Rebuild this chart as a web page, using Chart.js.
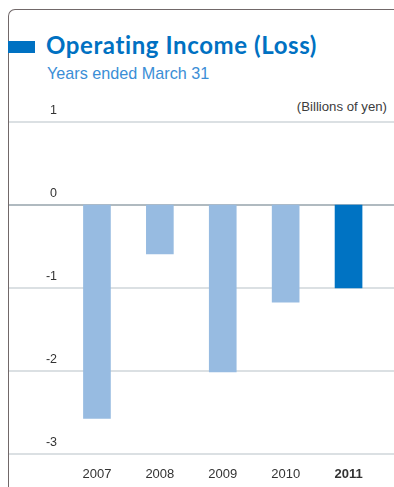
<!DOCTYPE html>
<html>
<head>
<meta charset="utf-8">
<script src="https://cdn.jsdelivr.net/npm/chart.js@4/dist/chart.umd.min.js"></script>
<style>
	html, body { margin: 0; padding: 0; background: #fff; }
	body { width: 394px; height: 487px; position: relative; overflow: hidden; font-family: "Liberation Sans", Arial, sans-serif; }
	#frame { position: absolute; left: 8px; top: 9px; width: 420px; height: 500px; border-left: 1px solid #716869; border-top: 1px solid #716869; border-top-left-radius: 7px; box-sizing: border-box; }
	#tab { position: absolute; left: 8px; top: 41px; width: 27px; height: 12px; background: #0071c2; }
	#title { position: absolute; left: 46px; top: 30px; font: bold 24px "Lato", "Liberation Sans", sans-serif; color: #0071c2; white-space: nowrap; letter-spacing: 0.6px; }
	#subtitle { position: absolute; left: 47px; top: 64px; font: 16.2px "Liberation Sans", Arial, sans-serif; color: #3b8ed6; white-space: nowrap; }
	#unit { position: absolute; right: 7px; top: 99px; font: 13.2px "Liberation Sans", Arial, sans-serif; color: #3c3c3c; white-space: nowrap; }
	#wrap { position: absolute; left: 0; top: 0; width: 394px; height: 487px; }
</style>
</head>
<body>
<div id="frame"></div>
<div id="tab"></div>
<div id="title">Operating Income (Loss)</div>
<div id="subtitle">Years ended March 31</div>
<div id="unit">(Billions of yen)</div>
<div id="wrap"><canvas id="chart"></canvas></div>
<script>
	var years = ["2007", "2008", "2009", "2010", "2011"],
		income = [-2.57, -0.59, -2.01, -1.17, -1.00],
		barColors = ["#97bbe1", "#97bbe1", "#97bbe1", "#97bbe1", "#0073c3"],
		yTicks = [1, 0, -1, -2, -3];

	// horizontal rules run the full width of the panel, not just the plot area
	var ruleLines = {
		id: "ruleLines",
		beforeDatasetsDraw: function (chart) {
			var ctx = chart.ctx,
				y = chart.scales.y;
			ctx.save();
			yTicks.forEach(function (v) {
				var py = Math.round(y.getPixelForValue(v));
				ctx.beginPath();
				if (v === 0) {
					ctx.strokeStyle = "#b0bac0";
					ctx.lineWidth = 2;
				} else {
					ctx.strokeStyle = "#cfd6da";
					ctx.lineWidth = 1.5;
				}
				ctx.moveTo(9, py);
				ctx.lineTo(394, py);
				ctx.stroke();
			});
			ctx.restore();
		}
	};

	new Chart(document.getElementById("chart"), {
		type: "bar",
		data: {
			labels: years,
			datasets: [{
				data: income,
				backgroundColor: barColors,
				borderWidth: 0,
				barThickness: 27
			}]
		},
		options: {
			responsive: true,
			maintainAspectRatio: false,
			animation: false,
			events: [],
			layout: {
				padding: {left: 5.5, right: 14, top: 122, bottom: 6.5}
			},
			plugins: {
				legend: {display: false},
				tooltip: {enabled: false}
			},
			scales: {
				x: {
					grid: {display: false, drawTicks: false},
					border: {display: false},
					afterFit: function (scale) {
						scale.height = 26.5;
					},
					ticks: {
						padding: 12.5,
						color: "#333",
						font: function (ctx) {
							return {
								family: "'Liberation Sans', Arial, sans-serif",
								size: 13,
								weight: ctx.index === years.length - 1 ? "bold" : "normal"
							};
						}
					}
				},
				y: {
					min: -3,
					max: 1,
					grid: {display: false, drawTicks: false},
					border: {display: false},
					afterFit: function (scale) {
						scale.width = 60;
					},
					ticks: {
						stepSize: 1,
						padding: 8.5,
						labelOffset: -11.5,
						color: "#333",
						font: {family: "'Liberation Sans', Arial, sans-serif", size: 12.5}
					}
				}
			}
		},
		plugins: [ruleLines]
	});
</script>
</body>
</html>
